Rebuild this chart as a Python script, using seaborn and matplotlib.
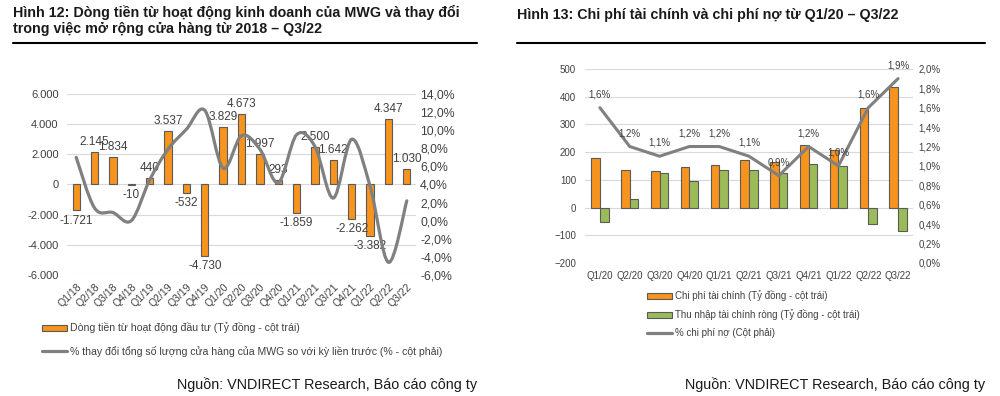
import numpy as np
import pandas as pd
import matplotlib
matplotlib.use('Agg')
import matplotlib.pyplot as plt
from matplotlib.path import Path
from matplotlib.patches import PathPatch, Patch
from matplotlib.lines import Line2D
from matplotlib.ticker import FuncFormatter
import seaborn as sns

# --- data ---
quarters_l = ['Q1/18', 'Q2/18', 'Q3/18', 'Q4/18', 'Q1/19', 'Q2/19', 'Q3/19', 'Q4/19',
              'Q1/20', 'Q2/20', 'Q3/20', 'Q4/20', 'Q1/21', 'Q2/21', 'Q3/21', 'Q4/21',
              'Q1/22', 'Q2/22', 'Q3/22']
cash_flow = [-1721, 2145, 1834, -10, 440, 3537, -532, -4730, 3829, 4673, 1997, 293,
             -1859, 2500, 1642, -2262, -3382, 4347, 1030]
store_change = [7.0, 1.4, 0.9, 0.0, 4.5, 7.9, 10.1, 12.2, 5.8, 9.4, 7.9, 4.2,
                9.5, 8.2, 2.5, 9.0, 3.8, -4.6, 2.2]

quarters_r = ['Q1/20', 'Q2/20', 'Q3/20', 'Q4/20', 'Q1/21', 'Q2/21', 'Q3/21', 'Q4/21',
              'Q1/22', 'Q2/22', 'Q3/22']
fin_cost = [178, 137, 132, 146, 152, 170, 163, 226, 209, 360, 435]
fin_income = [-53, 32, 125, 97, 136, 134, 125, 158, 149, -61, -86]
debt_cost = [1.6, 1.2, 1.1, 1.2, 1.2, 1.1, 0.9, 1.2, 1.0, 1.6, 1.9]

ORANGE = '#F7941E'
GREEN = '#9BBB59'
GRAY = '#808080'
EDGE = '#5A5A5A'
TXT = '#404040'
GRID = '#D9D9D9'

sns.set_theme(style='white')
plt.rcParams['font.family'] = ['Liberation Sans', 'DejaVu Sans']


def thousands(v, pos=None):
    return f'{int(v):,}'.replace(',', '.')


def pct(v, pos=None):
    return f'{v:.1f}%'.replace('.', ',')


def smooth_path(xs, ys):
    # Excel style smoothed line: cubic bezier through each point
    pts = np.column_stack([xs, ys]).astype(float)
    n = len(pts)
    verts = [pts[0]]
    codes = [Path.MOVETO]
    for i in range(n - 1):
        p0 = pts[i - 1] if i > 0 else pts[i]
        p1, p2 = pts[i], pts[i + 1]
        p3 = pts[i + 2] if i + 2 < n else pts[i + 1]
        verts += [p1 + (p2 - p0) / 6, p2 - (p3 - p1) / 6, p2]
        codes += [Path.CURVE4] * 3
    return Path(verts, codes)


fig = plt.figure(figsize=(10, 3.96), dpi=100)

# ---------------- left chart ----------------
ax1 = fig.add_axes([0.067, 0.3056, 0.349, 0.457])
sns.barplot(x=quarters_l, y=cash_flow, ax=ax1, color=ORANGE, saturation=1,
            width=0.4, edgecolor=EDGE, linewidth=0.8, zorder=2)
ax1.set_ylim(-6000, 6000)
ax1.set_yticks(range(-6000, 6001, 2000))
ax1.yaxis.set_major_formatter(FuncFormatter(thousands))
ax1.yaxis.grid(True, color=GRID, lw=0.8, zorder=0)
ax1.set_axisbelow(True)
ax1.tick_params(axis='y', labelsize=8, colors=TXT, length=0, pad=6)
ax1.tick_params(axis='x', labelsize=7.5, colors=TXT, length=0, pad=5)
for lbl in ax1.get_xticklabels():
    lbl.set_rotation(45)
    lbl.set_ha('right')
    lbl.set_rotation_mode('anchor')
for i, v in enumerate(cash_flow):
    ax1.annotate(thousands(v), (i, v), xytext=(0, 3 if v >= 0 else -3),
                 textcoords='offset points', ha='center',
                 va='bottom' if v >= 0 else 'top', fontsize=8.5, color=TXT)

ax1b = ax1.twinx()
ax1b.set_ylim(-6, 14)
ax1b.set_yticks(np.arange(-6, 14.1, 2))
ax1b.yaxis.set_major_formatter(FuncFormatter(pct))
ax1b.tick_params(axis='y', labelsize=8.8, colors=TXT, length=0, pad=3)
ax1b.add_patch(PathPatch(smooth_path(range(len(store_change)), store_change),
                         fill=False, edgecolor=GRAY, lw=2.3, capstyle='round'))
ax1.set_xlim(-0.5, len(quarters_l) - 0.5)
ax1.set_xlabel('')
for a in (ax1, ax1b):
    sns.despine(ax=a, left=True, right=True, top=True, bottom=True)

# ---------------- right chart ----------------
lab_cost = 'Chi phí tài chính (Tỷ đồng - cột trái)'
lab_inc = 'Thu nhập tài chính ròng (Tỷ đồng - cột trái)'
lab_debt = '% chi phí nợ (Cột phải)'
df = pd.DataFrame({
    'quarter': quarters_r * 2,
    'value': fin_cost + fin_income,
    'series': [lab_cost] * len(quarters_r) + [lab_inc] * len(quarters_r),
})

ax2 = fig.add_axes([0.585, 0.336, 0.328, 0.49])
sns.barplot(data=df, x='quarter', y='value', hue='series', ax=ax2,
            palette=[ORANGE, GREEN], saturation=1, width=0.58,
            edgecolor=EDGE, linewidth=0.8, legend=False)
ax2.set_ylim(-200, 500)
ax2.set_yticks(range(-200, 501, 100))
ax2.yaxis.grid(True, color=GRID, lw=0.8)
ax2.set_axisbelow(True)
ax2.tick_params(axis='y', labelsize=7, colors=TXT, length=0, pad=6.5)
ax2.tick_params(axis='x', labelsize=7, colors=TXT, length=0, pad=6)
ax2.set_xlabel('')
ax2.set_ylabel('')

ax2b = ax2.twinx()
sns.lineplot(x=np.arange(len(debt_cost)), y=debt_cost, ax=ax2b, color=GRAY, lw=2.2)
ax2b.set_ylim(0, 2.0)
ax2b.set_yticks(np.arange(0, 2.01, 0.2))
ax2b.yaxis.set_major_formatter(FuncFormatter(pct))
ax2b.tick_params(axis='y', labelsize=7, colors=TXT, length=0, pad=4)
ax2b.set_ylabel('')
for i, v in enumerate(debt_cost):
    ax2b.annotate(pct(v), (i, v), xytext=(0, 6), textcoords='offset points',
                  ha='center', va='bottom', fontsize=7, color=TXT)
ax2.set_xlim(-0.5, len(quarters_r) - 0.5)
for a in (ax2, ax2b):
    sns.despine(ax=a, left=True, right=True, top=True, bottom=True)

# ---------------- legends ----------------
h_left = [Patch(facecolor=ORANGE, edgecolor=EDGE, lw=0.8),
          Line2D([], [], color=GRAY, lw=2.3)]
fig.legend(h_left, ['Dòng tiền từ hoạt động đầu tư (Tỷ đồng - cột trái)',
                    '% thay đổi tổng số lượng cửa hàng của MWG so với kỳ liền trước (% - cột phải)'],
           loc='upper left', bbox_to_anchor=(0.037, 0.199), frameon=False, fontsize=7.6,
           borderpad=0, handlelength=2.35, handleheight=0.5, handletextpad=0.25,
           labelspacing=1.17, labelcolor=TXT)

h_right = [Patch(facecolor=ORANGE, edgecolor=EDGE, lw=0.8),
           Patch(facecolor=GREEN, edgecolor=EDGE, lw=0.8),
           Line2D([], [], color=GRAY, lw=2.3)]
fig.legend(h_right, [lab_cost, lab_inc, lab_debt],
           loc='upper left', bbox_to_anchor=(0.642, 0.279), frameon=False, fontsize=7,
           borderpad=0, handlelength=2.6, handleheight=0.5, handletextpad=0.25,
           labelspacing=0.82, labelcolor=TXT)

# ---------------- titles / source ----------------
fig.text(0.013, 1 - 5 / 396,
         'Hình 12: Dòng tiền từ hoạt động kinh doanh của MWG và thay đổi\n'
         'trong việc mở rộng cửa hàng từ 2018 – Q3/22',
         ha='left', va='top', fontsize=10.3, fontweight='bold', color='#1A1A1A',
         linespacing=1.15)
fig.text(0.517, 1 - 15 / 396, 'Hình 13: Chi phí tài chính và chi phí nợ từ Q1/20 – Q3/22',
         ha='left', va='center', fontsize=10.3, fontweight='bold', color='#1A1A1A')
y_rule = 1 - 43 / 396
fig.add_artist(Line2D([0.013, 0.477], [y_rule, y_rule], color='black', lw=1.5))
fig.add_artist(Line2D([0.517, 0.985], [y_rule, y_rule], color='black', lw=1.5))

src = 'Nguồn: VNDIRECT Research, Báo cáo công ty'
fig.text(0.477, 1 - 385 / 396, src, ha='right', va='center', fontsize=10.4, color='#1A1A1A')
fig.text(0.985, 1 - 385 / 396, src, ha='right', va='center', fontsize=10.4, color='#1A1A1A')

fig.savefig('out.png', dpi=100)
